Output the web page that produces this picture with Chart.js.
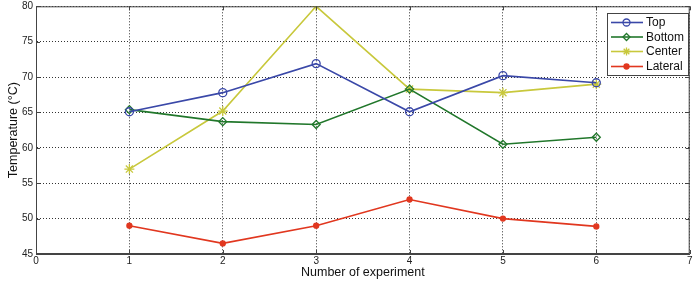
<!DOCTYPE html>
<html>
<head>
<meta charset="utf-8">
<script src="https://cdn.jsdelivr.net/npm/chart.js@4/dist/chart.umd.min.js"></script>
<style>
  html, body { margin: 0; padding: 0; background: #fff; }
  #wrap { width: 696px; height: 286px; }
</style>
</head>
<body>
<div id="wrap"><canvas id="tempChart" width="696" height="286"></canvas></div>
<script>
// data
const experiments = [1, 2, 3, 4, 5, 6];
const topTemps     = [65.1, 67.8, 71.9, 65.1, 70.2, 69.2];
const bottomTemps  = [65.4, 63.7, 63.3, 68.3, 60.5, 61.5];
const centerTemps  = [57.0, 65.2, 80.0, 68.3, 67.8, 69.0];
const lateralTemps = [49.0, 46.5, 49.0, 52.7, 50.0, 48.9];
const seriesNames  = ['Top', 'Bottom', 'Center', 'Lateral'];
const xTicks = [0, 1, 2, 3, 4, 5, 6, 7];
const yTicks = [45, 50, 55, 60, 65, 70, 75, 80];

const tickFont = { family: "'Liberation Sans Narrow', 'Liberation Sans', Arial, sans-serif", size: 10 };
const labelFont = { family: "'Liberation Sans', Arial, sans-serif", size: 12.5 };

const toPoints = vals => vals.map((v, i) => ({ x: experiments[i], y: v }));

function makeSet(label, vals, colour, style, radius, filled, legendRadius) {
    return {
        label: label,
        data: toPoints(vals),
        borderColor: colour,
        backgroundColor: filled ? colour : 'rgba(0,0,0,0)',
        pointStyle: style,
        pointRadius: radius,
        pointBorderColor: colour,
        pointBackgroundColor: filled ? colour : 'rgba(0,0,0,0)',
        pointBorderWidth: 1.3,
        borderWidth: 1.6,
        tension: 0,
        fill: false,
        legendRadius: legendRadius
    };
}

// box + inward ticks round the plot area, and a MATLAB style legend
const boxPlugin = {
    id: 'boxAndLegend',
    afterDatasetsDraw(chart) {
        const { ctx, chartArea: a, scales } = chart;
        ctx.save();
        ctx.strokeStyle = '#444';
        ctx.lineWidth = 1;
        ctx.strokeRect(a.left + 0.5, a.top + 0.5, a.right - a.left - 1, a.bottom - a.top - 1);

        // small ticks pointing inward on all four sides
        ctx.beginPath();
        xTicks.forEach(v => {
            const px = Math.round(scales.x.getPixelForValue(v)) + 0.5;
            ctx.moveTo(px, a.bottom); ctx.lineTo(px, a.bottom - 4);
            ctx.moveTo(px, a.top); ctx.lineTo(px, a.top + 4);
        });
        yTicks.forEach(v => {
            const py = Math.round(scales.y.getPixelForValue(v)) + 0.5;
            ctx.moveTo(a.left, py); ctx.lineTo(a.left + 4, py);
            ctx.moveTo(a.right, py); ctx.lineTo(a.right - 4, py);
        });
        ctx.stroke();

        // legend box
        const lx = 607, ly = 13, lw = 81, lh = 62;
        ctx.fillStyle = '#fff';
        ctx.fillRect(lx, ly, lw, lh);
        ctx.strokeStyle = '#444';
        ctx.strokeRect(lx + 0.5, ly + 0.5, lw, lh);

        const rows = [22.5, 37, 51.5, 66.5];
        chart.data.datasets.forEach((ds, i) => {
            const y = rows[i];
            ctx.strokeStyle = ds.borderColor;
            ctx.lineWidth = ds.borderWidth;
            ctx.beginPath();
            ctx.moveTo(611, y);
            ctx.lineTo(643, y);
            ctx.stroke();
            ctx.fillStyle = ds.pointBackgroundColor;
            ctx.strokeStyle = ds.pointBorderColor;
            ctx.lineWidth = ds.pointBorderWidth;
            Chart.helpers.drawPoint(ctx, {
                pointStyle: ds.pointStyle,
                radius: ds.legendRadius,
                borderWidth: ds.pointBorderWidth,
                rotation: 0
            }, 626.5, y);
            ctx.fillStyle = '#111';
            ctx.font = "12px 'Liberation Sans', Arial, sans-serif";
            ctx.textBaseline = 'middle';
            ctx.textAlign = 'left';
            ctx.fillText(ds.label, 646, y + 0.5);
        });
        ctx.restore();
    }
};

const ctx = document.getElementById('tempChart').getContext('2d');
new Chart(ctx, {
    type: 'line',
    data: {
        datasets: [
            makeSet(seriesNames[0], topTemps, '#3a48a8', 'circle', 4, false, 3.5),
            makeSet(seriesNames[1], bottomTemps, '#21772b', 'rectRot', 4, false, 3.5),
            makeSet(seriesNames[2], centerTemps, '#c8c83c', 'star', 5, false, 4),
            makeSet(seriesNames[3], lateralTemps, '#e1371f', 'circle', 2.5, true, 2.5)
        ]
    },
    options: {
        responsive: false,
        animation: false,
        layout: { padding: { top: 6, right: 6, left: 0, bottom: 0 } },
        plugins: {
            legend: { display: false },
            tooltip: { enabled: false }
        },
        scales: {
            x: {
                type: 'linear',
                min: 0,
                max: 7,
                afterBuildTicks: scale => { scale.ticks = xTicks.map(v => ({ value: v })); },
                afterFit: scale => { scale.height = 32; },
                ticks: { color: '#222', font: tickFont, padding: 1, maxRotation: 0 },
                grid: { color: '#333', lineWidth: 1, drawTicks: false },
                border: { display: true, color: '#444', dash: [1, 2] },
                title: { display: true, text: 'Number of experiment', color: '#111', font: labelFont, padding: { top: 0, bottom: 5.5 } }
            },
            y: {
                min: 45,
                max: 80,
                afterBuildTicks: scale => { scale.ticks = yTicks.map(v => ({ value: v })); },
                afterFit: scale => { scale.width = 36; scale.paddingTop = 0; scale.paddingBottom = 0; },
                ticks: { color: '#222', font: tickFont, padding: 3 },
                grid: { color: '#333', lineWidth: 1, drawTicks: false },
                border: { display: true, color: '#444', dash: [1, 2] },
                title: { display: true, text: 'Temperature (°C)', color: '#111', font: labelFont, padding: { top: 6.5, bottom: 0 } }
            }
        }
    },
    plugins: [boxPlugin]
});
</script>
</body>
</html>
